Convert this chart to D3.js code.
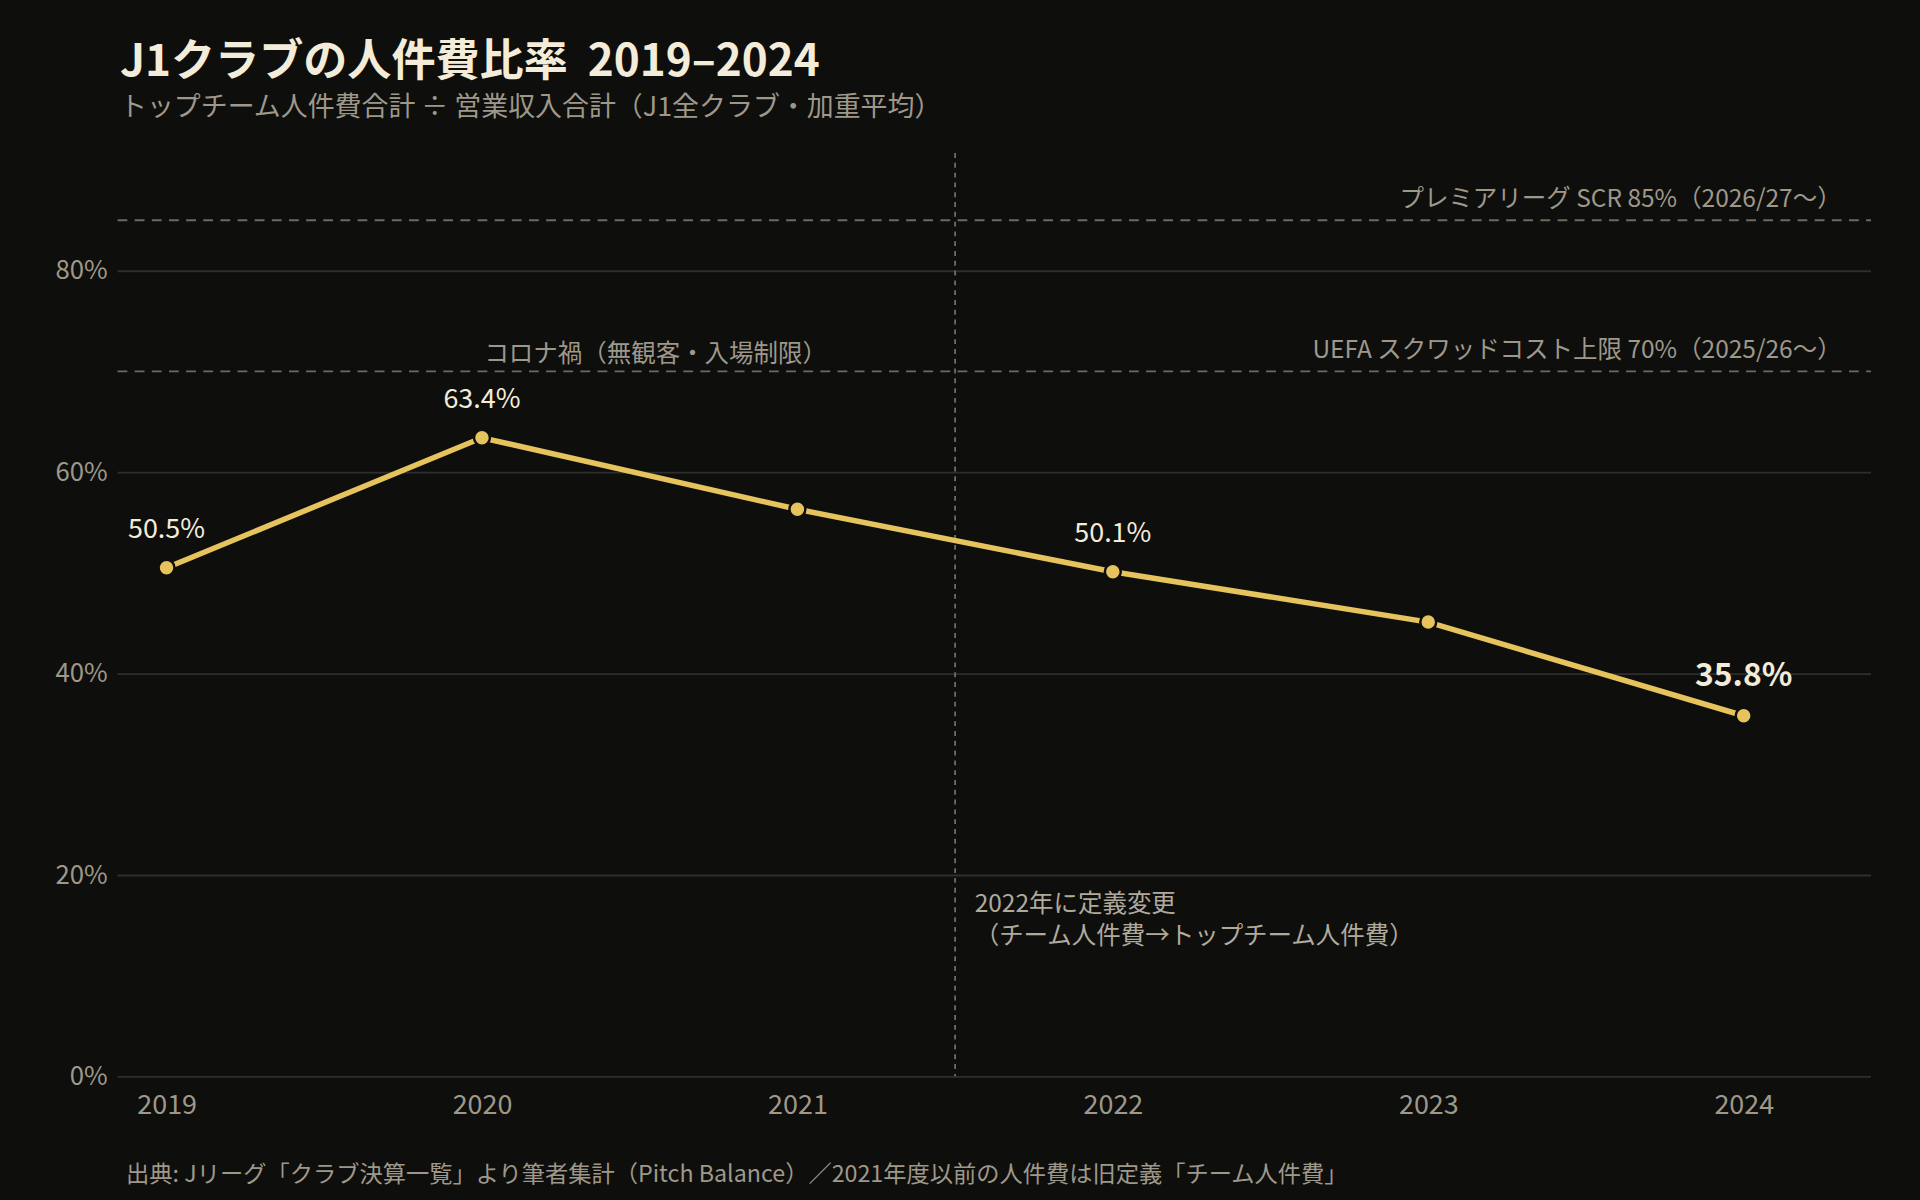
<!DOCTYPE html>
<html><head><meta charset="utf-8">
<script src="https://cdn.jsdelivr.net/npm/d3@7"></script>
<style>
  html, body { margin: 0; background: #0e0e0c; }
  svg { display: block; font-family: "Noto Sans CJK JP", "Noto Sans", sans-serif; }
</style></head>
<body><svg id="chart"></svg>
<script>
const years = ["2019", "2020", "2021", "2022", "2023", "2024"];
const ratios = [50.5, 63.4, 56.3, 50.1, 45.1, 35.8];
const labelledYears = ["2019", "2020", "2022", "2024"];
const yTicks = [0, 20, 40, 60, 80];
const refLines = [
  { value: 85, label: "プレミアリーグ SCR 85%（2026/27〜）" },
  { value: 70, label: "UEFA スクワッドコスト上限 70%（2025/26〜）" }
];

// drawn in a 1568x980 box, scaled up to the 1920x1200 window
const W = 1568, H = 980;
const margin = { top: 125, right: 40, bottom: 101, left: 96 };

const svg = d3.select("#chart")
  .attr("width", 1920).attr("height", 1200)
  .attr("viewBox", `0 0 ${W} ${H}`);

svg.append("rect").attr("width", W).attr("height", H).attr("fill", "#0e0e0c");

const x = d3.scalePoint().domain(years).range([136, 1424]);
const y = d3.scaleLinear().domain([0, 91.67])
  .range([H - margin.bottom, margin.top]);

// title
svg.append("text").attr("x", 98).attr("y", 62)
  .attr("fill", "#f3ecd9").style("font-size", "36px").style("font-weight", 700)
  .text("J1クラブの人件費比率\u00a0\u00a02019–2024");
svg.append("text").attr("x", 98).attr("y", 95)
  .attr("fill", "#9e988a").style("font-size", "22px")
  .text("トップチーム人件費合計 ÷ 営業収入合計（J1全クラブ・加重平均）");

// grid + y axis
const yAxis = svg.append("g")
  .attr("transform", `translate(${margin.left},0)`)
  .call(d3.axisLeft(y).tickValues(yTicks).tickSize(-(W - margin.left - margin.right))
    .tickFormat(d => d + "%"))
  .attr("font-family", null);
yAxis.select(".domain").remove();
yAxis.selectAll(".tick line").attr("stroke", "#2e2e2b").attr("stroke-width", 1.5);
yAxis.selectAll(".tick text").attr("x", -8).attr("fill", "#9e988a")
  .style("font-size", "21px");

// x axis
const xAxis = svg.append("g")
  .attr("transform", `translate(0,${H - margin.bottom})`)
  .call(d3.axisBottom(x).tickSize(0).tickPadding(15))
  .attr("font-family", null);
xAxis.select(".domain").remove();
xAxis.selectAll(".tick text").attr("fill", "#9e988a").style("font-size", "22px");

// reference lines
refLines.forEach(r => {
  svg.append("line")
    .attr("x1", margin.left).attr("x2", W - margin.right)
    .attr("y1", y(r.value)).attr("y2", y(r.value))
    .attr("stroke", "#6e6a62").attr("stroke-width", 1.5).attr("stroke-dasharray", "8,6");
  svg.append("text").attr("x", W - margin.right - 24).attr("y", y(r.value) - 11)
    .attr("text-anchor", "end").attr("fill", "#9e988a").style("font-size", "20px")
    .text(r.label);
});

svg.append("text").attr("x", x("2020") + 2).attr("y", y(70) - 8)
  .attr("fill", "#9e988a").style("font-size", "20px")
  .text("コロナ禍（無観客・入場制限）");

// definition change marker
const xChange = (x("2021") + x("2022")) / 2;
svg.append("line").attr("x1", xChange).attr("x2", xChange)
  .attr("y1", margin.top).attr("y2", H - margin.bottom)
  .attr("stroke", "#6e6a62").attr("stroke-width", 1.5).attr("stroke-dasharray", "4,4");
svg.append("text").attr("x", xChange + 16).attr("y", 745)
  .attr("fill", "#b0aa9c").style("font-size", "20px").text("2022年に定義変更");
svg.append("text").attr("x", xChange + 16).attr("y", 771)
  .attr("fill", "#b0aa9c").style("font-size", "20px").text("（チーム人件費→トップチーム人件費）");

// series
const pts = years.map((yr, i) => ({ yr, v: ratios[i] }));
svg.append("path").datum(pts)
  .attr("fill", "none").attr("stroke", "#e6c35c").attr("stroke-width", 4.5)
  .attr("d", d3.line().x(d => x(d.yr)).y(d => y(d.v)));
svg.selectAll("circle.pt").data(pts).join("circle")
  .attr("cx", d => x(d.yr)).attr("cy", d => y(d.v)).attr("r", 6.5)
  .attr("fill", "#e6c35c").attr("stroke", "#0e0e0c").attr("stroke-width", 2);

svg.selectAll("text.val").data(pts.filter(d => labelledYears.includes(d.yr))).join("text")
  .attr("x", d => x(d.yr)).attr("y", d => y(d.v) - 24)
  .attr("text-anchor", "middle").attr("fill", "#f3ecd9")
  .style("font-size", d => d.yr === "2024" ? "26px" : "22px")
  .style("font-weight", d => d.yr === "2024" ? 700 : 400)
  .text(d => d.v.toFixed(1) + "%");

// source
svg.append("text").attr("x", 103).attr("y", 965)
  .attr("fill", "#9e988a").style("font-size", "19px")
  .text("出典: Jリーグ「クラブ決算一覧」より筆者集計（Pitch Balance）／2021年度以前の人件費は旧定義「チーム人件費」");
</script></body></html>
